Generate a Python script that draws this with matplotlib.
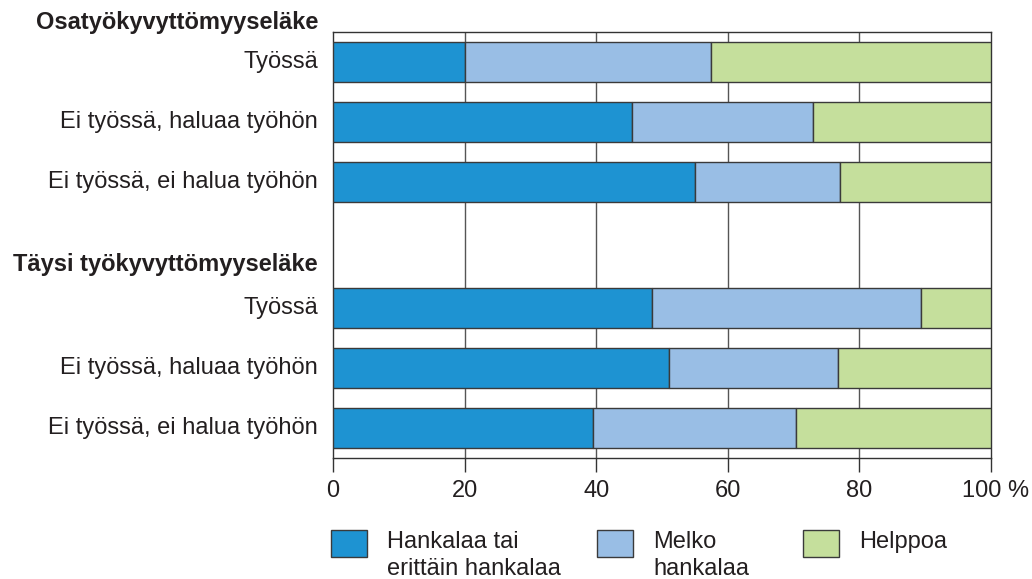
import matplotlib
matplotlib.use("Agg")
import matplotlib.pyplot as plt
from matplotlib.patches import Rectangle
import matplotlib.transforms as mtransforms

plt.rcParams['font.family'] = ['Liberation Sans', 'DejaVu Sans']

# ---- data ----
groups = ["Osatyökyvyttömyyseläke", "Täysi työkyvyttömyyseläke"]
row_labels = ["Työssä", "Ei työssä, haluaa työhön", "Ei työssä, ei halua työhön",
              "Työssä", "Ei työssä, haluaa työhön", "Ei työssä, ei halua työhön"]
series_names = ["Hankalaa tai\nerittäin hankalaa", "Melko\nhankalaa", "Helppoa"]
hankalaa = [20.0, 45.5, 55.0, 48.5, 51.0, 39.5]
melko = [37.5, 27.5, 22.0, 40.8, 25.8, 30.8]
helppoa = [42.5, 27.0, 23.0, 10.7, 23.2, 29.7]
xticks = [0, 20, 40, 60, 80, 100]
xtick_labels = ["0", "20", "40", "60", "80", "100 %"]

colors = ["#1E93D2", "#99BEE5", "#C5DF9C"]
edge = "#3a3a3a"
txt = "#231f20"
FS = 17

# ---- layout ----
W, H = 1032, 579
fig = plt.figure(figsize=(W / 100, H / 100), dpi=100)
ax = fig.add_axes([333 / W, 1 - 458 / H, (991 - 333) / W, (458 - 32) / H])

ypos = [0, 1, 2, 4.105, 5.104, 6.104]
group_ypos = [-0.66, 3.38]
bar_h = 0.667

left = [0.0] * len(ypos)
for vals, col in zip([hankalaa, melko, helppoa], colors):
    ax.barh(ypos, vals, left=left, height=bar_h, color=col, edgecolor=edge,
            linewidth=1.0, zorder=3)
    left = [l + v for l, v in zip(left, vals)]

ax.set_xlim(0, 100)
ax.set_ylim(6.6, -0.5)
ax.set_xticks(xticks)
ax.set_xticklabels(xtick_labels, fontsize=FS, color=txt)
ax.tick_params(axis='x', direction='out', length=10, width=1, color='#333333',
               pad=5.5)
lbls = ax.get_xticklabels()
lbls[-1].set_transform(lbls[-1].get_transform() +
                       mtransforms.ScaledTranslation(5 / 100, 0, fig.dpi_scale_trans))
ax.set_yticks([])
for x in xticks[1:-1]:
    ax.axvline(x, color='#555555', linewidth=1.0, zorder=1)
for s in ax.spines.values():
    s.set_color('#333333')
    s.set_linewidth(1.0)

# row labels
off = mtransforms.ScaledTranslation(-15 / 100, 0, fig.dpi_scale_trans)
for y, lab in zip(ypos, row_labels):
    ax.text(0, y, lab, ha='right', va='center', fontsize=FS, color=txt,
            transform=ax.transData + off, clip_on=False)
for y, g in zip(group_ypos, groups):
    ax.text(0, y, g, ha='right', va='center', fontsize=FS, fontweight='bold',
            color=txt, transform=ax.transData + off, clip_on=False)

# legend
leg_x = [331, 597, 803]
for x0, name, col in zip(leg_x, series_names, colors):
    fig.patches.append(Rectangle((x0 / W, 1 - 557 / H), 36 / W, 27 / H,
                                 transform=fig.transFigure, facecolor=col,
                                 edgecolor=edge, linewidth=1.0))
    fig.text((x0 + 56) / W, 1 - 531 / H, name, ha='left', va='top',
             fontsize=FS, color=txt, linespacing=1.3)

fig.savefig("out.png", dpi=100)
